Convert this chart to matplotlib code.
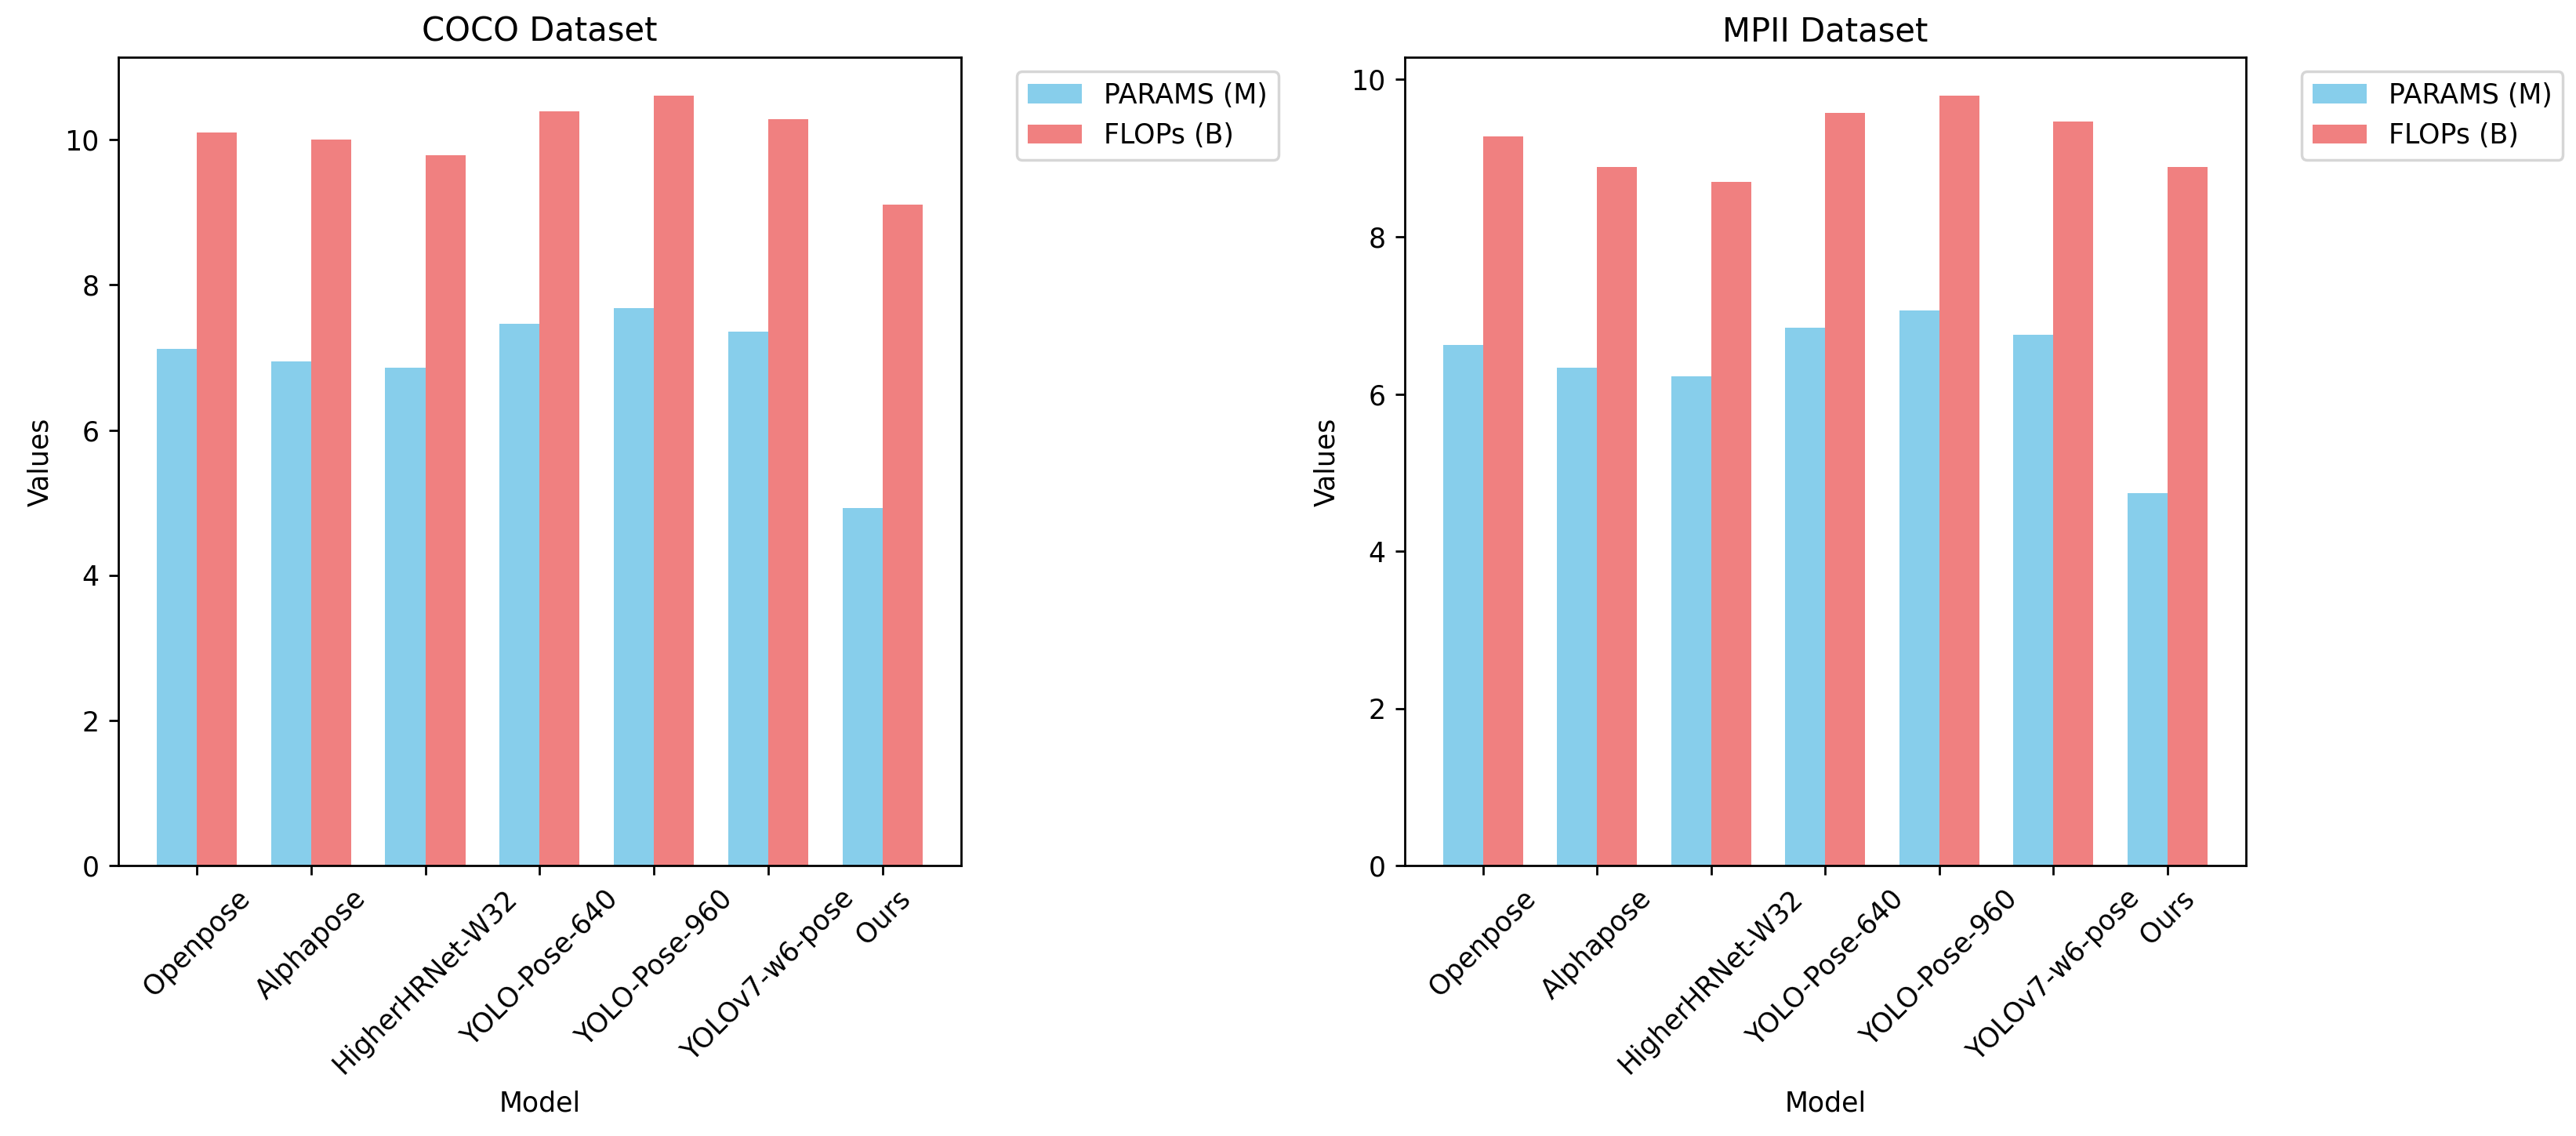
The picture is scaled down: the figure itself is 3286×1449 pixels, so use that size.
import numpy as np
import matplotlib
matplotlib.use('Agg')
import matplotlib.pyplot as plt

models = ['Openpose', 'Alphapose', 'HigherHRNet-W32', 'YOLO-Pose-640',
          'YOLO-Pose-960', 'YOLOv7-w6-pose', 'Ours']

coco_params = [7.12, 6.94, 6.86, 7.46, 7.68, 7.36, 4.93]
coco_flops = [10.1, 10.0, 9.78, 10.39, 10.6, 10.28, 9.1]

mpii_params = [6.62, 6.33, 6.23, 6.84, 7.06, 6.75, 4.74]
mpii_flops = [9.28, 8.89, 8.7, 9.57, 9.79, 9.47, 8.89]

x = np.arange(len(models))
width = 0.35

fig = plt.figure(figsize=(13.144, 5.796), dpi=250)
ax1 = fig.add_axes([0.0459, 0.2378, 0.3272, 0.7116])
ax2 = fig.add_axes([0.5453, 0.2378, 0.3265, 0.7116])

for ax, params, flops, title in [(ax1, coco_params, coco_flops, 'COCO Dataset'),
                                 (ax2, mpii_params, mpii_flops, 'MPII Dataset')]:
    ax.bar(x - width / 2, params, width, label='PARAMS (M)', color='skyblue')
    ax.bar(x + width / 2, flops, width, label='FLOPs (B)', color='lightcoral')
    ax.set_xlabel('Model')
    ax.set_ylabel('Values')
    ax.set_title(title)
    ax.set_xticks(x)
    ax.set_xticklabels(models, rotation=45)
    ax.legend(bbox_to_anchor=(1.05, 1), loc='upper left')

fig.savefig('out.png', dpi=250)
